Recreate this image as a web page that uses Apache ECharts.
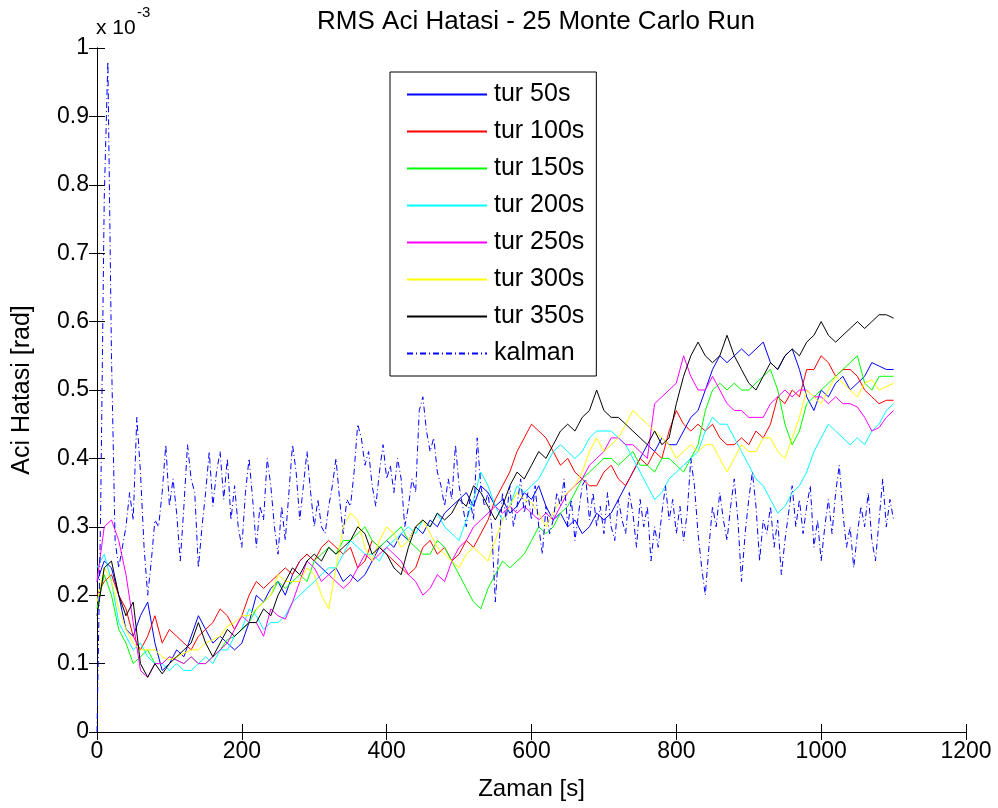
<!DOCTYPE html>
<html>
<head>
<meta charset="utf-8">
<script src="https://cdn.jsdelivr.net/npm/echarts@6/dist/echarts.min.js"></script>
<style>
html,body{margin:0;padding:0;background:#fff;}
#c{width:998px;height:808px;}
</style>
</head>
<body>
<div id="c"></div>
<script>
// ---- data (values in units of 1e-3 rad) ----
const seriesNames = ['tur 50s','tur 100s','tur 150s','tur 200s','tur 250s','tur 300s','tur 350s','kalman'];
const xTicks = [0,200,400,600,800,1000,1200];
const yTicks = [0,0.1,0.2,0.3,0.4,0.5,0.6,0.7,0.8,0.9,1];

// solid series sampled every 10 s from 0 to 1100 s
const tSolid = Array.from({length:111}, (_, i) => i * 10);
// kalman sampled every 5 s from 0 to 1100 s
const tKalman = Array.from({length:221}, (_, i) => i * 5);

const tur50 = [
0.22,0.25,0.24,0.20,0.15,0.14,0.17,0.19,0.13,0.09,
0.10,0.12,0.11,0.14,0.17,0.15,0.13,0.14,0.13,0.12,
0.13,0.16,0.20,0.19,0.21,0.22,0.20,0.23,0.25,0.26,
0.25,0.24,0.23,0.24,0.22,0.23,0.22,0.23,0.25,0.27,
0.28,0.27,0.29,0.28,0.30,0.29,0.31,0.30,0.32,0.33,
0.34,0.35,0.33,0.36,0.35,0.33,0.34,0.32,0.33,0.35,
0.34,0.36,0.33,0.31,0.32,0.30,0.31,0.29,0.30,0.32,
0.31,0.32,0.34,0.36,0.38,0.40,0.42,0.41,0.43,0.42,
0.42,0.44,0.46,0.47,0.50,0.53,0.55,0.54,0.55,0.56,
0.55,0.56,0.57,0.54,0.53,0.55,0.56,0.53,0.49,0.47,
0.50,0.49,0.51,0.52,0.50,0.51,0.52,0.54,0.535,0.53,0.53];

const tur100 = [
0.20,0.22,0.23,0.20,0.18,0.14,0.12,0.14,0.17,0.13,
0.15,0.14,0.13,0.12,0.14,0.15,0.16,0.18,0.17,0.15,
0.17,0.20,0.22,0.21,0.22,0.23,0.24,0.23,0.25,0.26,
0.25,0.27,0.28,0.27,0.26,0.27,0.24,0.25,0.28,0.27,
0.26,0.25,0.24,0.23,0.24,0.27,0.28,0.26,0.27,0.25,
0.26,0.28,0.27,0.29,0.31,0.34,0.36,0.38,0.41,0.43,
0.45,0.44,0.43,0.41,0.39,0.40,0.38,0.37,0.36,0.36,
0.38,0.39,0.37,0.36,0.38,0.40,0.39,0.41,0.40,0.44,
0.47,0.45,0.44,0.45,0.44,0.45,0.43,0.42,0.42,0.43,
0.42,0.44,0.43,0.45,0.49,0.48,0.50,0.49,0.53,0.53,
0.55,0.54,0.52,0.53,0.53,0.52,0.50,0.49,0.48,0.485,0.485];

const tur150 = [
0.18,0.23,0.20,0.15,0.13,0.10,0.11,0.12,0.10,0.10,
0.11,0.105,0.10,0.11,0.10,0.10,0.11,0.12,0.135,0.14,
0.15,0.16,0.18,0.19,0.20,0.22,0.21,0.22,0.23,0.22,
0.25,0.26,0.27,0.26,0.28,0.28,0.29,0.30,0.28,0.27,
0.28,0.29,0.30,0.28,0.27,0.26,0.26,0.28,0.27,0.25,
0.23,0.21,0.19,0.18,0.21,0.23,0.25,0.24,0.25,0.26,
0.28,0.30,0.29,0.30,0.32,0.33,0.35,0.37,0.38,0.39,
0.40,0.40,0.39,0.40,0.41,0.39,0.39,0.38,0.40,0.40,
0.39,0.38,0.40,0.42,0.47,0.50,0.51,0.50,0.51,0.50,
0.50,0.51,0.52,0.53,0.50,0.45,0.42,0.44,0.48,0.49,
0.50,0.51,0.52,0.53,0.54,0.55,0.51,0.50,0.52,0.52,0.52];

const tur200 = [
0.24,0.26,0.22,0.16,0.14,0.12,0.13,0.11,0.10,0.10,
0.09,0.10,0.09,0.09,0.10,0.11,0.10,0.12,0.12,0.14,
0.15,0.18,0.17,0.15,0.16,0.16,0.17,0.19,0.20,0.21,
0.22,0.23,0.24,0.24,0.26,0.28,0.27,0.26,0.26,0.25,
0.27,0.28,0.29,0.30,0.29,0.31,0.30,0.32,0.30,0.29,
0.28,0.31,0.34,0.38,0.36,0.33,0.31,0.33,0.36,0.35,
0.36,0.37,0.39,0.41,0.42,0.41,0.40,0.41,0.43,0.44,
0.44,0.44,0.43,0.42,0.40,0.38,0.36,0.34,0.35,0.37,
0.38,0.39,0.40,0.41,0.44,0.46,0.45,0.45,0.43,0.41,
0.39,0.37,0.36,0.34,0.32,0.33,0.35,0.36,0.38,0.41,
0.43,0.45,0.44,0.43,0.42,0.43,0.42,0.44,0.45,0.47,0.48];

const tur250 = [
0.22,0.30,0.31,0.28,0.23,0.16,0.09,0.08,0.10,0.10,
0.11,0.105,0.10,0.11,0.10,0.10,0.11,0.12,0.13,0.15,
0.17,0.16,0.16,0.14,0.18,0.17,0.165,0.19,0.22,0.25,
0.24,0.22,0.23,0.22,0.21,0.22,0.24,0.26,0.25,0.26,
0.27,0.26,0.25,0.23,0.22,0.20,0.21,0.23,0.22,0.25,
0.27,0.28,0.30,0.31,0.32,0.33,0.32,0.33,0.32,0.33,
0.32,0.31,0.32,0.31,0.33,0.35,0.36,0.37,0.39,0.40,
0.41,0.43,0.43,0.42,0.42,0.41,0.40,0.48,0.49,0.50,
0.51,0.55,0.52,0.50,0.50,0.52,0.50,0.48,0.47,0.47,
0.46,0.46,0.46,0.48,0.49,0.50,0.49,0.50,0.50,0.49,
0.49,0.48,0.49,0.48,0.48,0.475,0.46,0.44,0.445,0.46,0.47];

const tur300 = [
0.19,0.24,0.22,0.18,0.15,0.13,0.12,0.12,0.12,0.11,
0.105,0.11,0.115,0.12,0.12,0.13,0.135,0.14,0.155,0.16,
0.17,0.17,0.18,0.19,0.20,0.23,0.22,0.22,0.22,0.24,
0.23,0.20,0.18,0.24,0.30,0.32,0.31,0.27,0.25,0.28,
0.30,0.29,0.27,0.28,0.30,0.31,0.29,0.27,0.26,0.25,
0.24,0.26,0.27,0.26,0.25,0.28,0.31,0.33,0.35,0.34,
0.335,0.32,0.30,0.32,0.34,0.35,0.36,0.38,0.41,0.43,
0.41,0.42,0.43,0.45,0.47,0.46,0.45,0.44,0.43,0.42,
0.40,0.41,0.42,0.41,0.42,0.42,0.40,0.38,0.40,0.42,
0.41,0.41,0.43,0.43,0.41,0.40,0.43,0.46,0.50,0.49,
0.48,0.50,0.52,0.51,0.50,0.49,0.51,0.515,0.50,0.505,0.51];

const tur350 = [
0.17,0.24,0.25,0.20,0.17,0.19,0.10,0.08,0.10,0.085,
0.10,0.11,0.12,0.13,0.16,0.13,0.11,0.13,0.15,0.14,
0.15,0.16,0.16,0.18,0.17,0.20,0.22,0.24,0.23,0.25,
0.26,0.25,0.27,0.26,0.27,0.28,0.30,0.29,0.26,0.27,
0.26,0.24,0.23,0.27,0.30,0.31,0.30,0.32,0.31,0.32,
0.34,0.33,0.36,0.35,0.33,0.31,0.33,0.36,0.38,0.37,
0.39,0.41,0.40,0.42,0.44,0.45,0.44,0.46,0.47,0.50,
0.47,0.46,0.46,0.45,0.44,0.43,0.42,0.44,0.42,0.43,
0.48,0.52,0.55,0.57,0.55,0.54,0.55,0.58,0.55,0.53,
0.51,0.50,0.52,0.54,0.53,0.55,0.56,0.55,0.57,0.58,
0.60,0.58,0.57,0.58,0.59,0.60,0.59,0.60,0.61,0.61,0.605];

const kalman = [
0.00,0.32,0.78,0.98,0.55,0.28,0.24,0.27,0.30,0.35,0.31,0.46,0.38,0.27,0.20,0.25,0.31,0.30,0.35,0.42,
0.33,0.37,0.32,0.25,0.33,0.42,0.37,0.35,0.24,0.30,0.35,0.41,0.33,0.38,0.41,0.34,0.40,0.31,0.36,0.30,
0.27,0.35,0.40,0.34,0.27,0.33,0.31,0.40,0.36,0.30,0.26,0.33,0.28,0.35,0.42,0.38,0.31,0.36,0.41,0.35,
0.30,0.34,0.30,0.29,0.33,0.36,0.40,0.34,0.29,0.34,0.33,0.38,0.45,0.43,0.39,0.41,0.36,0.33,0.38,0.42,
0.37,0.39,0.35,0.40,0.37,0.30,0.33,0.37,0.35,0.47,0.49,0.44,0.41,0.43,0.38,0.36,0.33,0.37,0.34,0.42,
0.36,0.33,0.30,0.34,0.31,0.43,0.36,0.33,0.35,0.30,0.19,0.27,0.35,0.31,0.36,0.30,0.33,0.37,0.32,0.35,
0.31,0.36,0.30,0.26,0.33,0.29,0.31,0.35,0.33,0.37,0.30,0.34,0.28,0.32,0.36,0.37,0.31,0.35,0.30,0.33,
0.29,0.35,0.30,0.28,0.34,0.31,0.29,0.35,0.32,0.27,0.34,0.30,0.33,0.25,0.30,0.27,0.32,0.36,0.31,0.34,
0.29,0.33,0.28,0.32,0.40,0.36,0.29,0.24,0.20,0.27,0.33,0.30,0.35,0.31,0.28,0.33,0.37,0.31,0.22,0.29,
0.34,0.38,0.33,0.25,0.31,0.29,0.33,0.27,0.31,0.23,0.28,0.32,0.36,0.30,0.34,0.29,0.33,0.36,0.27,0.31,
0.25,0.30,0.34,0.29,0.35,0.39,0.32,0.27,0.30,0.24,0.29,0.33,0.30,0.35,0.28,0.25,0.31,0.37,0.30,0.34,0.31];

const solidValues = [tur50, tur100, tur150, tur200, tur250, tur300, tur350];
const colors = ['#0000ff','#ff0000','#00ff00','#00ffff','#ff00ff','#ffff00','#000000','#0000ff'];

const FONT = 'Liberation Sans, Arial, Helvetica, sans-serif';

function pairs(t, v) { return v.map((y, i) => [t[i], y]); }

const series = solidValues.map((vals, k) => ({
  name: seriesNames[k],
  type: 'line',
  xAxisIndex: 0, yAxisIndex: 0,
  data: pairs(tSolid, vals),
  showSymbol: false, symbol: 'none',
  lineStyle: { color: colors[k], width: 1 },
  itemStyle: { color: colors[k] },
  animation: false
}));
series.push({
  name: seriesNames[7],
  type: 'line',
  xAxisIndex: 0, yAxisIndex: 0,
  data: pairs(tKalman, kalman),
  showSymbol: false, symbol: 'none',
  lineStyle: { color: colors[7], width: 1, type: [6, 3, 1, 3] },
  itemStyle: { color: colors[7] },
  animation: false
});

const chart = echarts.init(document.getElementById('c'), null, { renderer: 'canvas' });

const axisCommon = {
  axisLine: { show: true, lineStyle: { color: '#000', width: 1 } },
  axisTick: { show: true, inside: true, length: 8, lineStyle: { color: '#000' } },
  splitLine: { show: false }
};

chart.setOption({
  backgroundColor: '#fff',
  animation: false,
  title: {
    text: 'RMS Aci Hatasi - 25 Monte Carlo Run',
    left: 531, textAlign: 'center', top: 4,
    textStyle: { fontFamily: FONT, fontSize: 26, fontWeight: 'normal', color: '#000' }
  },
  graphic: [
    { type: 'text', left: 96, top: 18, style: { text: 'x 10', font: '21px ' + FONT, fill: '#000' } },
    { type: 'text', left: 137, top: 5, style: { text: '-3', font: '15px ' + FONT, fill: '#000' } }
  ],
  legend: {
    orient: 'vertical',
    left: 390, top: 72,
    padding: [10, 12, 10, 16],
    itemWidth: 80, itemHeight: 24, itemGap: 12,
    itemStyle: { opacity: 0 },
    backgroundColor: '#fff',
    borderColor: '#000', borderWidth: 1,
    textStyle: { fontFamily: FONT, fontSize: 25, color: '#000', padding: [0, 0, 0, 2] },
    data: seriesNames
  },
  grid: { left: 97, right: 32, top: 48, bottom: 76, containLabel: false },
  xAxis: [
    Object.assign({
      type: 'value', min: 0, max: 1200, interval: 200, position: 'bottom',
      name: 'Zaman [s]', nameLocation: 'middle', nameGap: 45,
      nameTextStyle: { fontFamily: FONT, fontSize: 24, color: '#000' },
      axisLabel: { fontFamily: FONT, fontSize: 23, color: '#000', margin: 8, formatter: v => String(v) }
    }, axisCommon),
    Object.assign({
      type: 'value', min: 0, max: 1200, interval: 200, position: 'top',
      axisLabel: { show: false }
    }, axisCommon)
  ],
  yAxis: [
    Object.assign({
      type: 'value', min: 0, max: 1, interval: 0.1, position: 'left',
      name: 'Aci Hatasi [rad]', nameLocation: 'middle', nameGap: 62,
      nameTextStyle: { fontFamily: FONT, fontSize: 25, color: '#000' },
      axisLabel: {
        fontFamily: FONT, fontSize: 23, color: '#000', margin: 8,
        formatter: v => (Math.abs(v) < 1e-9 ? '0' : (Math.abs(v - 1) < 1e-9 ? '1' : v.toFixed(1)))
      }
    }, axisCommon),
    Object.assign({
      type: 'value', min: 0, max: 1, interval: 0.1, position: 'right',
      axisLabel: { show: false }
    }, axisCommon)
  ],
  series: series
});
</script>
</body>
</html>
